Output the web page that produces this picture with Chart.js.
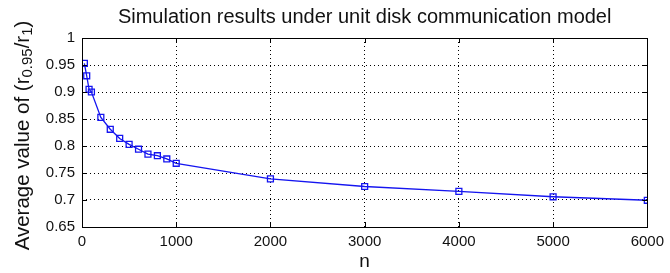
<!DOCTYPE html>
<html>
<head>
<meta charset="utf-8">
<script src="https://cdn.jsdelivr.net/npm/chart.js@4"></script>
<style>
    body { margin: 0; background: #fff; }
    #wrap { width: 670px; height: 273px; }
</style>
</head>
<body>
<div id="wrap"><canvas id="CanvasRatio"></canvas></div>
<script>
// network size n and the average value of r0.95/r1
const nValues = [25, 50, 75, 100, 200, 300, 400, 500, 600, 700, 800, 900, 1000, 2000, 3000, 4000, 5000, 6000];
const ratioValues = [0.953, 0.930, 0.905, 0.900, 0.853, 0.831, 0.814, 0.803, 0.794, 0.785, 0.782, 0.776, 0.768, 0.739, 0.725, 0.716, 0.706, 0.6995];

const titleText = "Simulation results under unit disk communication model";
const xTitle = "n";
// y label pieces: [text, isSubscript]
const yTitleParts = [["Average value of (r", false], ["0.95", true], ["/r", false], ["1", true], [")", false]];

const fontFamily = "'Liberation Sans', Arial, sans-serif";

// box around the plot area with inward tick marks (matlab style)
const frameBox = {
    id: 'frameBox',
    afterDatasetsDraw(chart) {
        const ctx = chart.ctx;
        const a = chart.chartArea;
        ctx.save();
        ctx.strokeStyle = '#000';
        ctx.lineWidth = 1;
        ctx.strokeRect(Math.round(a.left) + 0.5, Math.round(a.top) + 0.5, Math.round(a.right - a.left), Math.round(a.bottom - a.top));
        ctx.beginPath();
        chart.scales.x.ticks.forEach(t => {
            const x = Math.round(chart.scales.x.getPixelForValue(t.value)) + 0.5;
            ctx.moveTo(x, a.bottom); ctx.lineTo(x, a.bottom - 5);
            ctx.moveTo(x, a.top); ctx.lineTo(x, a.top + 5);
        });
        chart.scales.y.ticks.forEach(t => {
            const y = Math.round(chart.scales.y.getPixelForValue(t.value)) + 0.5;
            ctx.moveTo(a.left, y); ctx.lineTo(a.left + 5, y);
            ctx.moveTo(a.right, y); ctx.lineTo(a.right - 5, y);
        });
        ctx.stroke();
        ctx.restore();
    }
};

// title centred over the plot area + rotated y axis title with subscripts
const textPlugin = {
    id: 'textPlugin',
    afterDraw(chart) {
        const ctx = chart.ctx;
        const a = chart.chartArea;
        ctx.save();
        ctx.fillStyle = '#111';
        ctx.font = "20px " + fontFamily;
        ctx.textAlign = 'center';
        ctx.textBaseline = 'middle';
        ctx.fillText(titleText, (a.left + a.right) / 2, 17);
        ctx.restore();

        const bigFont = "20.5px " + fontFamily;
        const smallFont = "15px " + fontFamily;
        ctx.save();
        let total = 0;
        yTitleParts.forEach(p => {
            ctx.font = p[1] ? smallFont : bigFont;
            total += ctx.measureText(p[0]).width;
        });
        ctx.translate(23, (a.top + a.bottom) / 2 + 3);
        ctx.rotate(-Math.PI / 2);
        ctx.fillStyle = '#111';
        ctx.textBaseline = 'middle';
        let pos = -total / 2;
        yTitleParts.forEach(p => {
            ctx.font = p[1] ? smallFont : bigFont;
            ctx.fillText(p[0], pos, p[1] ? 5 : 0);
            pos += ctx.measureText(p[0]).width;
        });
        ctx.restore();
    }
};

const points = nValues.map((n, i) => ({ x: n, y: ratioValues[i] }));

new Chart(document.getElementById("CanvasRatio"), {
    type: 'line',
    data: {
        datasets: [{
            data: points,
            borderColor: '#1515f0',
            backgroundColor: 'rgba(0,0,0,0)',
            borderWidth: 1.3,
            pointStyle: 'rect',
            pointRadius: 4.2,
            pointBorderWidth: 1.3,
            pointBorderColor: '#1515f0',
            tension: 0
        }]
    },
    options: {
        responsive: true,
        maintainAspectRatio: false,
        animation: false,
        layout: { padding: { left: 0, right: 20, top: 38, bottom: 0 } },
        plugins: {
            legend: { display: false },
            tooltip: { enabled: false },
            title: { display: false }
        },
        scales: {
            x: {
                type: 'linear',
                min: 0,
                max: 6000,
                border: { display: false, dash: [1, 3] },
                grid: { color: '#000', lineWidth: 1, drawTicks: false, tickLength: 0 },
                ticks: {
                    stepSize: 1000,
                    color: '#111',
                    padding: 6,
                    maxRotation: 0,
                    font: { family: fontFamily, size: 15 },
                    callback: value => String(value)
                },
                title: {
                    display: true,
                    text: xTitle,
                    color: '#111',
                    font: { family: fontFamily, size: 19 },
                    padding: { top: 0, bottom: 0 }
                },
                afterFit: scale => { scale.height = 46; }
            },
            y: {
                min: 0.65,
                max: 1,
                border: { display: false, dash: [1, 3] },
                grid: { color: '#000', lineWidth: 1, drawTicks: false, tickLength: 0 },
                ticks: {
                    stepSize: 0.05,
                    color: '#111',
                    padding: 7,
                    font: { family: fontFamily, size: 15 },
                    callback: value => String(Math.round(value * 100) / 100)
                },
                afterFit: scale => { scale.width = 82; }
            }
        }
    },
    plugins: [frameBox, textPlugin]
});
</script>
</body>
</html>
